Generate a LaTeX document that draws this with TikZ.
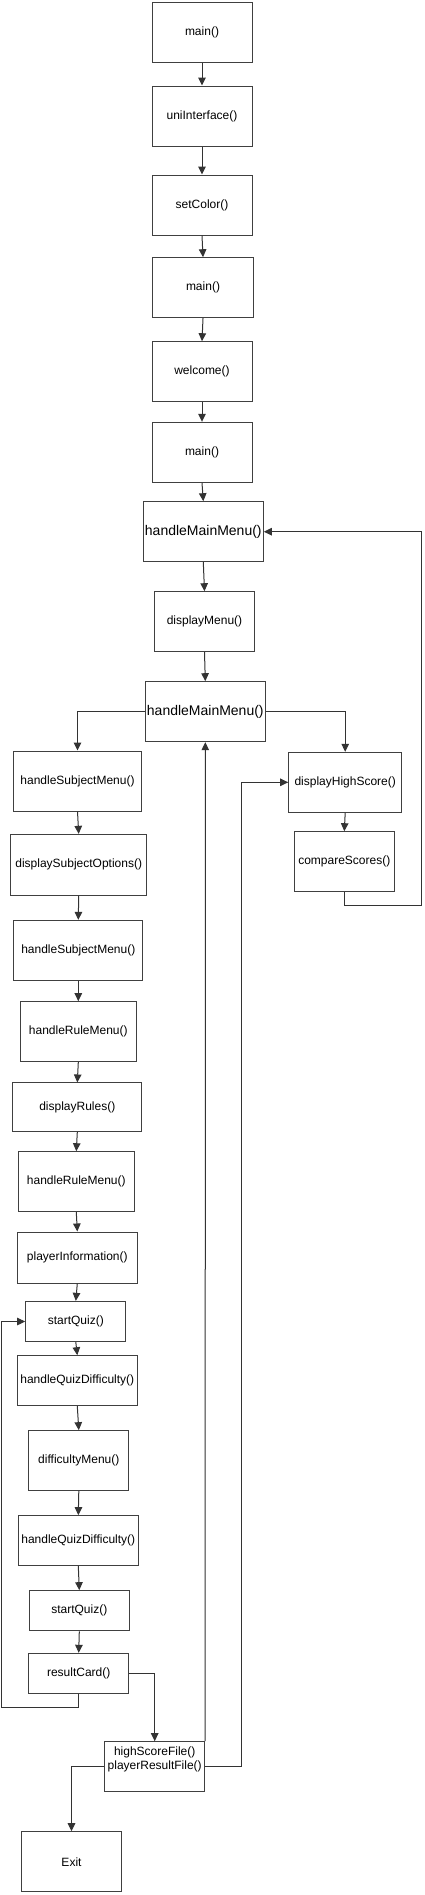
\documentclass[tikz,border=0pt]{standalone}
\usepackage{fontspec}
\setmainfont{Liberation Sans}
\usetikzlibrary{arrows.meta}
\begin{document}
\begin{tikzpicture}[x=1pt,y=-1pt,
  box/.style={draw=black!75,line width=1pt,rectangle,inner sep=0pt,
    font=\fontsize{12}{14}\selectfont,text=black},
  bigbox/.style={box,font=\fontsize{14}{16}\selectfont},
  arr/.style={draw=black!80,line width=1pt,-{Triangle[length=8pt,width=7.5pt]}},
  ln/.style={draw=black!80,line width=1pt}]
\useasboundingbox (0,0) rectangle (425,1895);
\fill[white] (0,0) rectangle (425,1895);
% main column
\node[box,minimum width=100pt,minimum height=60pt] (m1) at (202,32) {main()};
\node[box,minimum width=100pt,minimum height=60pt] (ui) at (202,116) {uniInterface()};
\node[box,minimum width=100pt,minimum height=60pt] (sc) at (202,205) {setColor()};
\node[box,minimum width=100.7pt,minimum height=60pt] (m2) at (203,287.7) {main()};
\node[box,minimum width=100pt,minimum height=60pt] (wc) at (202,371.7) {welcome()};
\node[box,minimum width=100pt,minimum height=60pt] (m3) at (202,452.3) {main()};
\node[bigbox,minimum width=120pt,minimum height=60pt] (hmm1) at (203.3,531.7) {handleMainMenu()};
\node[box,minimum width=100.3pt,minimum height=60pt] (dm) at (204.5,621.7) {displayMenu()};
\node[bigbox,minimum width=120pt,minimum height=60pt] (hmm2) at (205.3,711.7) {handleMainMenu()};
% left column
\node[box,minimum width=128.3pt,minimum height=60pt] (hsm1) at (77.5,781) {handleSubjectMenu()};
\node[box,minimum width=136pt,minimum height=60.7pt] (dso) at (78.7,864.7) {displaySubjectOptions()};
\node[box,minimum width=128.7pt,minimum height=60.3pt] (hsm2) at (78.3,950.5) {handleSubjectMenu()};
\node[box,minimum width=116pt,minimum height=60pt] (hrm1) at (78.3,1031.7) {handleRuleMenu()};
\node[box,minimum width=128.7pt,minimum height=48.7pt] (dr) at (77.3,1107.3) {displayRules()};
\node[box,minimum width=116pt,minimum height=60pt] (hrm2) at (76.3,1181.7) {handleRuleMenu()};
\node[box,minimum width=120pt,minimum height=51pt] (pi) at (77.3,1257.5) {playerInformation()};
\node[box,minimum width=100.3pt,minimum height=40.3pt] (sq1) at (75.8,1321.5) {startQuiz()};
\node[box,minimum width=120pt,minimum height=50pt] (hqd1) at (77.3,1380.7) {handleQuizDifficulty()};
\node[box,minimum width=100.3pt,minimum height=59.7pt] (dfm) at (78.8,1460.5) {difficultyMenu()};
\node[box,minimum width=120pt,minimum height=49.7pt] (hqd2) at (78.3,1540.5) {handleQuizDifficulty()};
\node[box,minimum width=100pt,minimum height=40.3pt] (sq2) at (79.3,1610.8) {startQuiz()};
\node[box,minimum width=100pt,minimum height=40pt] (rc) at (78.7,1673.3) {resultCard()};
\node[box,minimum width=100pt,minimum height=50pt] (hs) at (154.7,1766.7) {};
\node[font=\fontsize{12}{14}\selectfont,align=center,inner sep=0pt] (hst) at (154.7,1759.5) {highScoreFile()\\playerResultFile()};
\node[box,minimum width=100.3pt,minimum height=60pt] (ex) at (71.5,1861.7) {Exit};
% right column
\node[box,minimum width=113pt,minimum height=60pt] (dhs) at (345.2,782.3) {displayHighScore()};
\node[box,minimum width=100pt,minimum height=60pt] (cs) at (344.3,861.7) {compareScores()};
% helper coordinates
\coordinate (rt) at (421.7,905.7);
\coordinate (lf) at (1.7,1707);
\coordinate (hr) at (241.7,1766.7);
% connectors
\foreach \a/\b in {m1/ui,ui/sc,sc/m2,m2/wc,wc/m3,m3/hmm1,hmm1/dm,dm/hmm2,
  hsm1/dso,dso/hsm2,hsm2/hrm1,hrm1/dr,dr/hrm2,hrm2/pi,pi/sq1,sq1/hqd1,
  hqd1/dfm,dfm/hqd2,hqd2/sq2,sq2/rc,dhs/cs}
  \draw[arr] (\a.south) -- (\b.north);
\draw[arr] (hmm2.west) -| (hsm1.north);
\draw[arr] (hmm2.east) -| (dhs.north);
\draw[arr] (cs.south) |- (rt) |- (hmm1.east);
\draw[arr] (rc.south) |- (lf) |- (sq1.west);
\draw[arr] (rc.east) -| (hs.north);
\draw[arr] (hs.north east) -- (hmm2.south);
\draw[arr] (hs.east) -- (hr) |- (dhs.west);
\draw[arr] (hs.west) -| (ex.north);
\end{tikzpicture}
\end{document}
